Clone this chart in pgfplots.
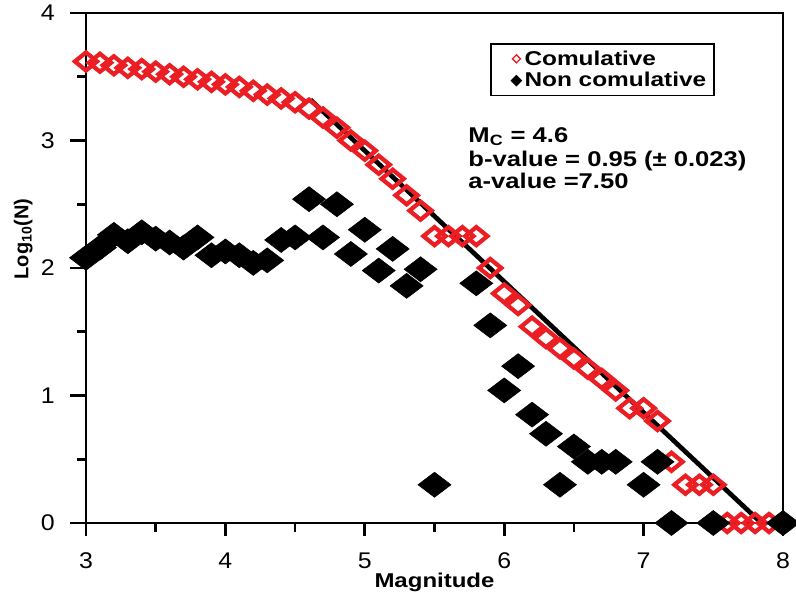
\documentclass[border=0pt]{standalone}
\usepackage{pgfplots}
\pgfplotsset{compat=1.18}
\usepackage{pgfplotstable}
\usepackage{fontspec}
\setmainfont{Liberation Sans}
\usepackage{graphicx}
\newcommand{\sx}[1]{\scalebox{1.2}[1]{#1}}
\definecolor{cred}{RGB}{235,30,36}
\pgfplotstableread{
m v
3.0 3.62
3.1 3.61
3.2 3.59
3.3 3.57
3.4 3.56
3.5 3.54
3.6 3.52
3.7 3.50
3.8 3.48
3.9 3.46
4.0 3.44
4.1 3.42
4.2 3.39
4.3 3.36
4.4 3.33
4.5 3.30
4.6 3.25
4.7 3.18
4.8 3.10
4.9 3.00
5.0 2.92
5.1 2.81
5.2 2.70
5.3 2.57
5.4 2.45
5.5 2.25
5.6 2.25
5.7 2.25
5.8 2.25
5.9 2.00
6.0 1.80
6.1 1.71
6.2 1.54
6.3 1.45
6.4 1.37
6.5 1.29
6.6 1.21
6.7 1.13
6.8 1.04
6.9 0.90
7.0 0.90
7.1 0.80
7.2 0.48
7.3 0.30
7.4 0.30
7.5 0.30
7.6 0
7.7 0
7.8 0
7.9 0
}\cumtable
\pgfplotstableread{
m v
3.0 2.08
3.1 2.16
3.2 2.26
3.3 2.21
3.4 2.28
3.5 2.23
3.6 2.20
3.7 2.16
3.8 2.24
3.9 2.10
4.0 2.13
4.1 2.10
4.2 2.04
4.3 2.06
4.4 2.22
4.5 2.24
4.6 2.54
4.7 2.24
4.8 2.50
4.9 2.11
5.0 2.30
5.1 1.98
5.2 2.15
5.3 1.86
5.4 1.99
5.5 0.30
5.8 1.88
5.9 1.55
6.0 1.04
6.1 1.23
6.2 0.85
6.3 0.70
6.4 0.30
6.5 0.60
6.6 0.48
6.7 0.48
6.8 0.48
7.0 0.30
7.1 0.48
7.2 0
7.5 0
8.0 0
}\noncumtable
\begin{document}
\begin{tikzpicture}
\useasboundingbox (-64.5pt,-53.25pt) rectangle (532.5pt,392.25pt);
\begin{axis}[
  at={(0pt,0pt)}, anchor=south west,
  width=522.75pt, height=382.5pt, scale only axis,
  xmin=3, xmax=8, ymin=0, ymax=4,
  xtick={3,4,5,6,7,8}, ytick={0,1,2,3,4},
  minor x tick num=1, minor y tick num=1,
  tick align=inside, tick pos=left,
  major tick length=-10pt, minor tick length=-6pt,
  major tick style={draw=none},
  minor tick style={draw=none},
  clip=false,
  /pgf/number format/assume math mode=true,
  tick label style={font=\fontsize{17}{20}\selectfont},
  xticklabel={\scalebox{1.1}[1]{\pgfmathprintnumber{\tick}}},
  yticklabel={\scalebox{1.1}[1]{\pgfmathprintnumber{\tick}}},
  xticklabel style={yshift=-19pt},
  yticklabel style={xshift=-20pt},
  xlabel={\sx{\bfseries Magnitude}},
  ylabel={\bfseries Log\textsubscript{10}(N)},
  label style={font=\fontsize{15}{18}\selectfont},
  xlabel style={at={(axis description cs:0.5,-0.117)}, anchor=center},
  ylabel style={at={(axis description cs:-0.09,0.557)}, anchor=center},
  legend style={at={(axis description cs:0.58,0.941)}, anchor=north west,
    draw=black, line width=1.2pt, font=\fontsize{15}{17}\selectfont\bfseries,
    inner xsep=4pt, inner ysep=3pt, row sep=0pt},
  legend cell align=left,
]
\addplot[only marks, mark=diamond, mark size=6.75pt,
  mark options={xscale=1.64, line width=3.2pt, draw=cred},
  legend image code/.code={\path[draw=none,fill=none] (0pt,0pt) -- (19pt,0pt); \draw[cred, line width=1pt] (15pt,0) ++(0,3pt) -- ++(3pt,-3pt) -- ++(-3pt,-3pt) -- ++(-3pt,3pt) -- cycle;}]
  table[x=m, y=v] {\cumtable};
\addlegendentry{\scalebox{1.22}[1]{Comulative}}
\addplot[only marks, mark=diamond*, mark size=9.4pt,
  mark options={xscale=1.76, line width=0.4pt, draw=black, fill=black},
  legend image code/.code={\path[draw=none,fill=none] (0pt,0pt) -- (19pt,0pt); \fill[black] (15pt,0) ++(0,3.5pt) -- ++(3.5pt,-3.5pt) -- ++(-3.5pt,-3.5pt) -- ++(-3.5pt,3.5pt) -- cycle;}]
  table[x=m, y=v] {\noncumtable};
\addlegendentry{\scalebox{1.22}[1]{Non comulative}}
\addplot[black, line width=3.5pt, no marks, forget plot] coordinates {(4.61,3.32) (7.845,0)};
\draw[line width=2.2pt] (rel axis cs:0,0) rectangle (rel axis cs:1,1);
\pgfplotsinvokeforeach{3,4,5,6,7,8}{\draw[line width=2pt] (axis cs:#1,0) -- ++(0pt,-10pt);}
\pgfplotsinvokeforeach{3.5,4.5,5.5,6.5,7.5}{\draw[line width=2pt] (axis cs:#1,0) -- ++(0pt,-6.5pt);}
\pgfplotsinvokeforeach{0,1,2,3,4}{\draw[line width=2pt] (axis cs:3,#1) -- ++(-12pt,0pt);}
\pgfplotsinvokeforeach{0.5,1.5,2.5,3.5}{\draw[line width=2pt] (axis cs:3,#1) -- ++(-7pt,0pt);}
\node[anchor=base west, font=\fontsize{16}{19}\selectfont\bfseries] at (axis cs:5.71,2.988) {\sx{M\textsubscript{C} = 4.6}};
\node[anchor=base west, font=\fontsize{16}{19}\selectfont\bfseries] at (axis cs:5.71,2.800) {\sx{b-value = 0.95 (\textpm\ 0.023)}};
\node[anchor=base west, font=\fontsize{16}{19}\selectfont\bfseries] at (axis cs:5.71,2.627) {\sx{a-value =7.50}};
\end{axis}
\end{tikzpicture}
\end{document}
